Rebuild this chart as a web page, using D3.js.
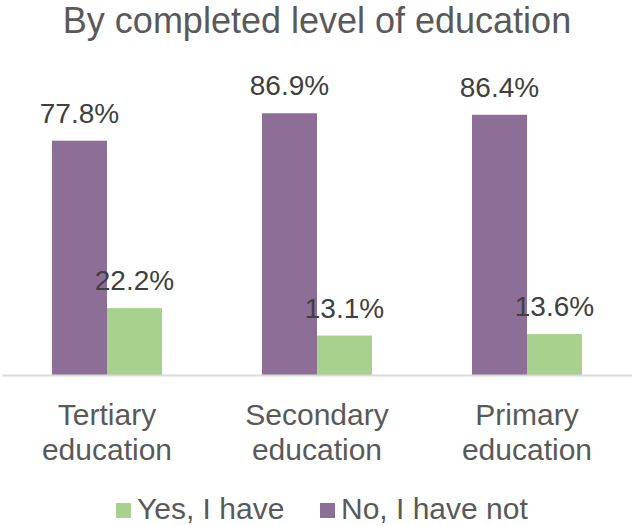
<!DOCTYPE html>
<html>
<head>
<meta charset="utf-8">
<script src="https://cdn.jsdelivr.net/npm/d3@7"></script>
<style>
  html, body { margin: 0; padding: 0; background: #fff; }
  svg { display: block; font-family: "Liberation Sans", Arial, sans-serif; }
</style>
</head>
<body>
<svg id="chart" width="632" height="526"></svg>
<script>
const title = "By completed level of education";
const categories = [["Tertiary", "education"], ["Secondary", "education"], ["Primary", "education"]];
const seriesNames = ["No, I have not", "Yes, I have"];
const noValues = [77.8, 86.9, 86.4];
const yesValues = [22.2, 13.1, 13.6];
const legendOrder = ["Yes, I have", "No, I have not"];
const colors = { "No, I have not": "#8D6E97", "Yes, I have": "#A9D18E" };

const svg = d3.select("#chart");
const W = 632, H = 526;
const catKeys = categories.map(c => c.join(" "));
const values = { "No, I have not": noValues, "Yes, I have": yesValues };

const x0 = d3.scaleBand().domain(catKeys).range([2, 632]).paddingInner(0.4762).paddingOuter(0.2381);
const x1 = d3.scaleBand().domain(seriesNames).range([0, x0.bandwidth()]);
const y = d3.scaleLinear().domain([0, 100]).range([375, 73.8]);

svg.append("text")
  .attr("x", W / 2 + 1).attr("y", 33)
  .attr("text-anchor", "middle")
  .attr("fill", "#595959")
  .style("font-size", "36px")
  .text(title);

const groups = svg.selectAll("g.cat").data(catKeys).join("g")
  .attr("class", "cat")
  .attr("transform", d => `translate(${x0(d)},0)`);

seriesNames.forEach(s => {
  groups.append("rect")
    .attr("x", x1(s))
    .attr("width", x1.bandwidth())
    .attr("y", (d, i) => y(values[s][i]))
    .attr("height", (d, i) => y(0) - y(values[s][i]))
    .attr("fill", colors[s]);
  groups.append("text")
    .attr("x", x1(s) + x1.bandwidth() / 2)
    .attr("y", (d, i) => y(values[s][i]) - 18)
    .attr("text-anchor", "middle")
    .attr("fill", "#404040")
    .style("font-size", "28px")
    .text((d, i) => values[s][i].toFixed(1) + "%");
});

// axis
const xAxis = svg.append("g").attr("transform", `translate(0,${y(0)})`)
  .call(d3.axisBottom(x0).tickSize(0).tickFormat(""));
xAxis.select(".domain").attr("stroke", "#D9D9D9").attr("stroke-width", 2);

categories.forEach((c, i) => {
  const cx = x0(catKeys[i]) + x0.bandwidth() / 2;
  const t = svg.append("text")
    .attr("x", cx)
    .attr("y", 425)
    .attr("text-anchor", "middle")
    .attr("fill", "#595959")
    .style("font-size", "30px");
  c.forEach((line, j) => {
    t.append("tspan").attr("x", cx).attr("dy", j === 0 ? 0 : 35).text(line);
  });
});

// legend
const legend = svg.append("g");
const legendX = [116, 320];
legendOrder.forEach((s, i) => {
  legend.append("rect").attr("x", legendX[i]).attr("y", 503).attr("width", 15).attr("height", 15).attr("fill", colors[s]);
  legend.append("text").attr("x", legendX[i] + 21).attr("y", 519)
    .attr("fill", "#595959").style("font-size", "30px").text(s);
});
</script>
</body>
</html>
